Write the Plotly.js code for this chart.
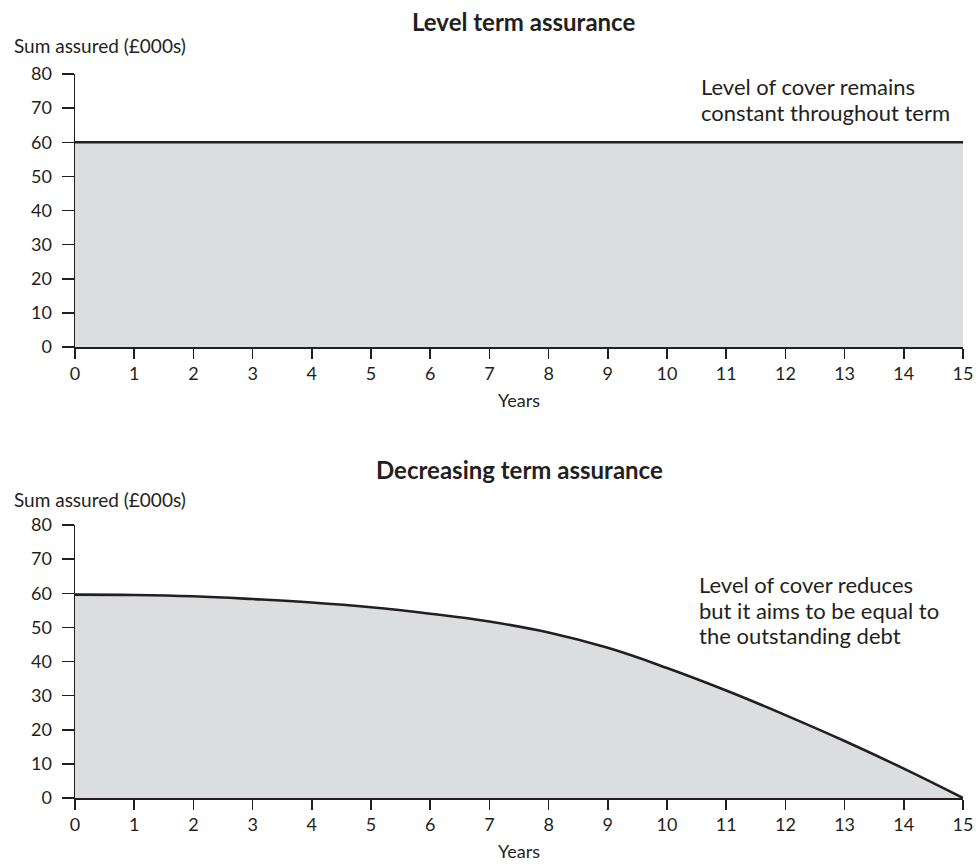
<!DOCTYPE html>
<html>
<head>
<meta charset="utf-8">
<script src="https://cdn.plot.ly/plotly-3.0.1.min.js"></script>
<style>html,body{margin:0;padding:0;background:#fff;}#chart{width:978px;height:864px;}</style>
</head>
<body>
<div id="chart"></div>
<script>
const years = [0,1,2,3,4,5,6,7,8,9,10,11,12,13,14,15];
const levelCover = [60,60,60,60,60,60,60,60,60,60,60,60,60,60,60,60];
const decreasingCover = [59.6,59.5,59.1,58.3,57.3,55.9,54.0,51.7,48.5,44.0,38.1,31.5,24.3,16.7,8.6,0];
const yTicks = [0,10,20,30,40,50,60,70,80];
const xTicks = years;
const titles = ["Level term assurance", "Decreasing term assurance"];
const yLabel = "Sum assured (£000s)";
const xLabel = "Years";
const noteTopLines = ["Level of cover remains", "constant throughout term"];
const noteBottomLines = ["Level of cover reduces", "but it aims to be equal to", "the outstanding debt"];

const FONT = "Lato, 'Open Sans', sans-serif";
const INK = "#231f20";
const FILL = "#dcdddf";
const H = 864, PW = 888, ML = 75;

const traces = [
  {x: years, y: levelCover, type: "scatter", mode: "lines", fill: "tozeroy",
   fillcolor: FILL, line: {color: INK, width: 2.6}, xaxis: "x", yaxis: "y", hoverinfo: "skip"},
  {x: years, y: decreasingCover, type: "scatter", mode: "lines", fill: "tozeroy",
   fillcolor: FILL, line: {color: INK, width: 2.6, shape: "spline", smoothing: 1.2}, xaxis: "x2", yaxis: "y2", hoverinfo: "skip"}
];

function xax(anchor){
  return {domain: [0, 1], range: [0, 15], tickvals: xTicks, ticktext: xTicks.map(String),
    ticks: "outside", ticklen: 10, tickwidth: 1.5, tickcolor: INK,
    showline: true, linecolor: INK, linewidth: 1.5, showgrid: false, zeroline: false,
    tickfont: {family: FONT, size: 18, color: INK}, anchor: anchor,
    title: {text: xLabel, font: {family: FONT, size: 18, color: INK}, standoff: 11}};
}
function yax(domain, anchor){
  return {domain: domain, range: [0, 80], tickvals: yTicks, ticktext: yTicks.map(String),
    ticks: "outside", ticklen: 12, tickwidth: 1.5, tickcolor: INK, ticklabelstandoff: 6,
    showline: true, linecolor: INK, linewidth: 1.5, showgrid: false, zeroline: false,
    tickfont: {family: FONT, size: 18, color: INK}, anchor: anchor};
}

const topDom = [(H-347)/H, (H-74)/H];
const botDom = [(H-798)/H, (H-525)/H];

function px(x){ return (x - ML) / PW; }
function py(y){ return (H - y) / H; }
function note(text, x, y, size, bold, anchor){
  return {text: bold ? "<b>" + text + "</b>" : text, xref: "paper", yref: "paper",
    x: px(x), y: py(y), xanchor: anchor, yanchor: "middle", align: "left", showarrow: false,
    font: {family: FONT, size: size, color: INK}};
}

const annotations = [
  note(titles[0], 523, 21, 24, true, "center"),
  note(titles[1], 519, 470, 24, true, "center"),
  note(yLabel, 12, 46, 19, false, "left"),
  note(yLabel, 12, 499, 19, false, "left")
];
noteTopLines.forEach((t, i) => annotations.push(note(t, 699, 86 + i * 26.5, 22, false, "left")));
noteBottomLines.forEach((t, i) => annotations.push(note(t, 697, 585 + i * 25.3, 22, false, "left")));

const layout = {
  width: 978, height: 864,
  margin: {l: ML, r: 15, t: 0, b: 0},
  paper_bgcolor: "#fff", plot_bgcolor: "#fff",
  showlegend: false,
  font: {family: FONT, color: INK},
  xaxis: xax("y"),
  yaxis: yax(topDom, "x"),
  xaxis2: xax("y2"),
  yaxis2: yax(botDom, "x2"),
  annotations: annotations
};

Plotly.newPlot("chart", traces, layout, {displayModeBar: false, staticPlot: true});
</script>
</body>
</html>
